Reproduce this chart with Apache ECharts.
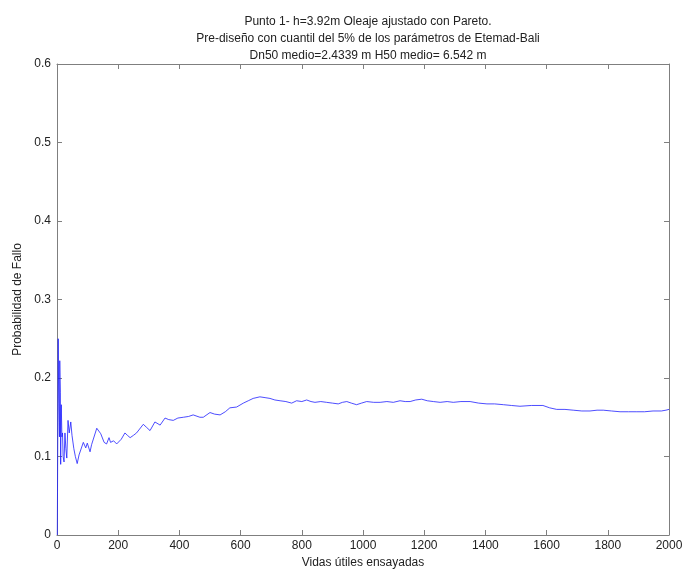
<!DOCTYPE html>
<html>
<head>
<meta charset="utf-8">
<script src="https://cdn.jsdelivr.net/npm/echarts@6/dist/echarts.min.js"></script>
<style>
  html, body { margin: 0; padding: 0; background: #fff; }
  #chart { width: 685px; height: 571px; }
</style>
</head>
<body>
<div id="chart"></div>
<script>
// vidas utiles ensayadas (x) y probabilidad de fallo acumulada (y)
const vidas = [
  1, 2, 3, 4, 5, 6, 7, 8, 9, 10, 11, 12, 13, 14, 16, 18, 20, 23, 26, 29,
  32, 36, 40, 45, 49, 55, 60, 66, 72, 77, 86, 94, 99, 108, 113, 119, 130, 143, 154, 162,
  170, 175, 185, 195, 210, 222, 230, 239, 250, 260, 270, 282, 293, 304, 320, 337, 353, 365, 380, 395,
  413, 430, 445, 467, 478, 500, 515, 533, 550, 565, 587, 609, 625, 641, 663, 680, 696, 712, 729, 748,
  767, 783, 800, 816, 830, 843, 862, 881, 900, 919, 933, 947, 962, 979, 995, 1012, 1035, 1056, 1078, 1099,
  1121, 1138, 1154, 1172, 1192, 1210, 1230, 1252, 1275, 1295, 1320, 1350, 1378, 1405, 1430, 1459, 1485, 1513, 1550, 1588,
  1610, 1633, 1660, 1687, 1715, 1742, 1765, 1785, 1812, 1840, 1868, 1895, 1920, 1948, 1975, 1990, 2000
];
const probFallo = [
  0, 0, 0, 0.25, 0.2, 0.167, 0.143, 0.125, 0.222, 0.2, 0.182, 0.09, 0.154, 0.166, 0.125, 0.13, 0.1, 0.093, 0.13, 0.11,
  0.098, 0.146, 0.13, 0.144, 0.127, 0.11, 0.1, 0.091, 0.102, 0.1, 0.118, 0.111, 0.117, 0.106, 0.115, 0.113, 0.136, 0.129, 0.118, 0.116,
  0.124, 0.118, 0.12, 0.116, 0.122, 0.13, 0.127, 0.124, 0.127, 0.13, 0.135, 0.141, 0.137, 0.133, 0.144, 0.14, 0.149, 0.147, 0.146, 0.149,
  0.15, 0.151, 0.153, 0.15, 0.15, 0.156, 0.154, 0.153, 0.157, 0.162, 0.163, 0.168, 0.171, 0.174, 0.176, 0.175, 0.174, 0.172, 0.171, 0.17,
  0.168, 0.171, 0.17, 0.172, 0.17, 0.169, 0.17, 0.169, 0.168, 0.167, 0.169, 0.17, 0.168, 0.166, 0.168, 0.17, 0.169, 0.169, 0.17, 0.169,
  0.171, 0.17, 0.17, 0.172, 0.173, 0.171, 0.17, 0.169, 0.17, 0.169, 0.17, 0.17, 0.168, 0.167, 0.167, 0.166, 0.165, 0.164, 0.165, 0.165,
  0.162, 0.16, 0.16, 0.159, 0.158, 0.158, 0.159, 0.159, 0.158, 0.157, 0.157, 0.157, 0.157, 0.158, 0.158, 0.159, 0.16
];
const tituloLineas = [
  'Punto 1- h=3.92m Oleaje ajustado con Pareto.',
  'Pre-diseño con cuantil del 5% de los parámetros de Etemad-Bali',
  'Dn50 medio=2.4339 m H50 medio= 6.542 m'
];

const font = 'Arial, "Liberation Sans", sans-serif';
const axisGrey = '#7f7f7f';

function mirrorAxis(base, pos) {
  return Object.assign({}, base, {
    position: pos,
    name: '',
    axisLabel: { show: false },
    splitLine: { show: false }
  });
}

const xBase = {
  type: 'value',
  min: 0,
  max: 2000,
  interval: 200,
  name: 'Vidas útiles ensayadas',
  nameLocation: 'middle',
  nameGap: 22,
  nameTextStyle: { color: '#222', fontSize: 12, fontFamily: font },
  axisLine: { show: true, onZero: false, lineStyle: { color: axisGrey, width: 1 } },
  axisTick: { show: true, inside: true, length: 5, lineStyle: { color: axisGrey } },
  axisLabel: { color: '#222', fontSize: 12, fontFamily: font, margin: 5, formatter: v => String(v) },
  splitLine: { show: false }
};
const yBase = {
  type: 'value',
  min: 0,
  max: 0.6,
  interval: 0.1,
  name: 'Probabilidad de Fallo',
  nameLocation: 'middle',
  nameGap: 24,
  nameTextStyle: { color: '#222', fontSize: 12, fontFamily: font },
  axisLine: { show: true, onZero: false, lineStyle: { color: axisGrey, width: 1 } },
  axisTick: { show: true, inside: true, length: 5, lineStyle: { color: axisGrey } },
  axisLabel: {
    color: '#222', fontSize: 12, fontFamily: font, margin: 6,
    formatter: v => (v === 0 ? '0' : v.toFixed(1))
  },
  splitLine: { show: false }
};

const option = {
  backgroundColor: '#fff',
  animation: false,
  title: {
    text: tituloLineas.join('\n'),
    left: 363,
    textAlign: 'center',
    top: 8,
    textStyle: { color: '#222', fontSize: 12, fontWeight: 'normal', fontFamily: font, lineHeight: 17 }
  },
  grid: { left: 57, right: 16, top: 64, bottom: 36, outerBoundsMode: 'none' },
  xAxis: [
    Object.assign({}, xBase, { position: 'bottom' }),
    mirrorAxis(xBase, 'top')
  ],
  yAxis: [
    Object.assign({}, yBase, { position: 'left' }),
    mirrorAxis(yBase, 'right')
  ],
  series: [
    {
      type: 'line',
      data: vidas.map((v, i) => [v, probFallo[i]]),
      showSymbol: false,
      symbol: 'none',
      lineStyle: { color: '#2020ff', width: 0.8 },
      xAxisIndex: 0,
      yAxisIndex: 0
    }
  ]
};

const chart = echarts.init(document.getElementById('chart'));
chart.setOption(option);
</script>
</body>
</html>
